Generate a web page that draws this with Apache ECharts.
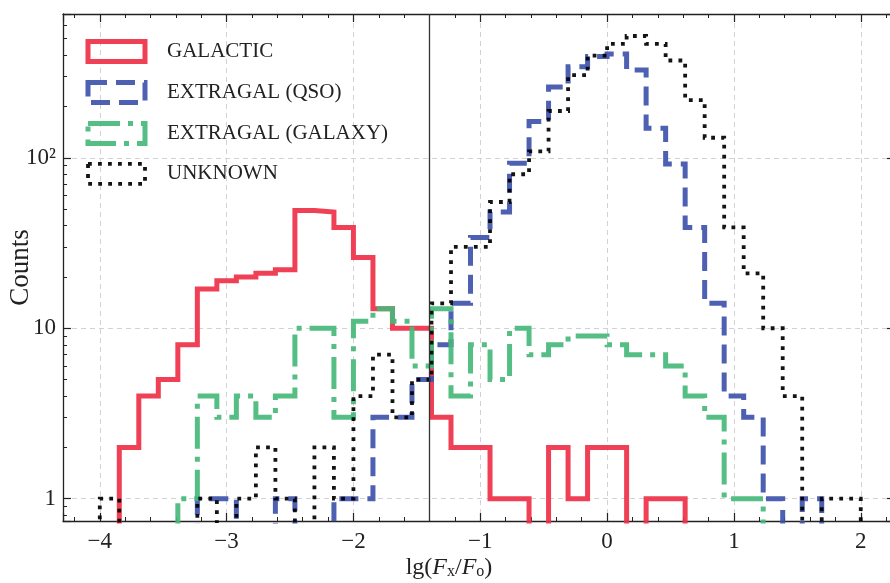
<!DOCTYPE html>
<html>
<head>
<meta charset="utf-8">
<title>lg(Fx/Fo) histogram</title>
<script src="https://cdn.jsdelivr.net/npm/echarts@6.0.0/dist/echarts.min.js"></script>
<style>
  html, body { margin: 0; padding: 0; background: #fff; }
  #chart { width: 890px; height: 583px; }
</style>
</head>
<body>
<div id="chart"></div>
<script>
// histogram bins: 39 equal bins between -4 and 2
const binStart = -4;
const binEnd = 2;
const binCount = 39;

// counts per bin
const galactic = [0, 2, 4, 5, 8, 17, 19, 20, 21, 22, 49, 48, 39, 26, 13, 10, 10, 3, 2, 2,
                  1, 1, 0, 2, 1, 2, 2, 0, 1, 1, 0, 0, 0, 0, 0, 0, 0, 0, 0];
const qso = [0, 0, 0, 0, 0, 1, 1, 0, 0, 1, 0, 0, 1, 1, 3, 3, 5, 8, 14, 34,
             48, 93, 163, 260, 342, 393, 406, 327, 149, 92, 39, 14, 4, 3, 1, 0, 1, 0, 0];
const galaxy = [0, 0, 0, 0, 1, 4, 3, 4, 3, 4, 10, 10, 3, 11, 13, 11, 6, 13, 4, 8,
                5, 10, 7, 8, 9, 9, 8, 7, 7, 6, 4, 3, 1, 1, 0, 0, 0, 0, 0];
const unknown = [1, 0, 0, 0, 0, 1, 0, 1, 2, 1, 0, 2, 1, 4, 7, 3, 5, 14, 30, 30,
                 55, 80, 109, 188, 305, 397, 465, 518, 465, 372, 218, 131, 39, 21, 10, 4, 0, 1, 1];

const seriesNames = ['GALACTIC', 'EXTRAGAL (QSO)', 'EXTRAGAL (GALAXY)', 'UNKNOWN'];
const seriesColors = ['#ef3047', '#3e52aa', '#45b97a', '#000000'];

// vertical reference line
const cutValue = -1.4;

// y tick labels
const yTickValues = [1, 10, 100];
const yTickTexts = ['1', '10', '10²'];

const serif = 'Liberation Serif, Times New Roman, serif';
const FLOOR = 0.1; // empty bins fall below the axis and get clipped
const binWidth = (binEnd - binStart) / binCount;

function stepPoints(counts) {
  const pts = [[binStart, FLOOR]];
  counts.forEach((c, k) => pts.push([binStart + k * binWidth, c > 0 ? c : FLOOR]));
  pts.push([binEnd, FLOOR]);
  return pts;
}

const lineWidths = [5, 5, 5, 3.8];
const dashes = ['solid', [19, 9], [32, 8, 5, 8], [3.8, 6.2]];

const histSeries = [galactic, qso, galaxy, unknown].map((counts, i) => ({
  name: seriesNames[i],
  type: 'line',
  step: 'end',
  data: stepPoints(counts),
  symbol: 'none',
  showSymbol: false,
  clip: true,
  silent: true,
  animation: false,
  emphasis: { disabled: true },
  itemStyle: { color: seriesColors[i] },
  lineStyle: {
    color: seriesColors[i], width: lineWidths[i], type: dashes[i],
    cap: 'butt', join: 'miter', opacity: 0.92
  }
}));

histSeries[0].markLine = {
  silent: true,
  symbol: ['none', 'none'],
  label: { show: false },
  animation: false,
  lineStyle: { color: '#333', width: 1.3, type: 'solid', opacity: 1 },
  data: [{ xAxis: cutValue }]
};

const xMin = -4.29, xMax = 2.27;
const yMin = 0.74, yMax = 697;

const tickCommon = {
  axisLine: { show: true, onZero: false, lineStyle: { color: '#222', width: 1.3 } },
  axisTick: { show: true, inside: true, length: 8, lineStyle: { color: '#222', width: 1.2 } }
};

function xLabel(v) {
  if (Math.abs(v - Math.round(v)) > 1e-6) return '';
  const r = Math.round(v);
  return r < 0 ? '\u2212' + (-r) : String(r);
}

function yLabel(v) {
  const i = yTickValues.findIndex(t => Math.abs(t - v) < 1e-6 * t);
  return i >= 0 ? yTickTexts[i] : '';
}

const option = {
  backgroundColor: '#fff',
  animation: false,
  grid: { left: 63, right: -5, top: 14, bottom: 62, containLabel: false, outerBoundsMode: 'none' },
  legend: {
    orient: 'vertical',
    left: 85.5,
    top: 39,
    padding: 0,
    itemWidth: 57,
    itemHeight: 20,
    itemGap: 16,
    selectedMode: false,
    textStyle: { fontFamily: serif, fontSize: 21, color: '#222', padding: [0, 0, 0, 17] },
    data: seriesNames.map((n, i) => ({
      name: n,
      icon: 'rect',
      itemStyle: {
        color: 'rgba(0,0,0,0)',
        borderColor: seriesColors[i],
        borderWidth: lineWidths[i],
        borderType: dashes[i],
        opacity: 0.92
      }
    }))
  },
  xAxis: [
    {
      type: 'value', min: xMin, max: xMax, position: 'bottom',
      axisLine: tickCommon.axisLine, axisTick: tickCommon.axisTick,
      axisLabel: {
        formatter: xLabel, showMinLabel: false, showMaxLabel: false, margin: 9,
        fontFamily: serif, fontSize: 23, color: '#222'
      },
      minorTick: { show: true, splitNumber: 5, length: 4, lineStyle: { color: '#222', width: 1 } },
      splitLine: { show: true, lineStyle: { color: '#d2d2d2', type: [5, 4], width: 1 } },
      name: 'lg({i|F}{s|x}/{i|F}{s|o})',
      nameLocation: 'middle',
      nameGap: 34,
      nameMoveOverlap: false,
      nameTextStyle: {
        fontFamily: serif, fontSize: 24, color: '#222', padding: [0, 60, 0, 0],
        rich: {
          i: { fontFamily: serif, fontSize: 24, fontStyle: 'italic', color: '#222' },
          s: { fontFamily: serif, fontSize: 16, color: '#222', padding: [9, 0, 0, 0] }
        }
      }
    },
    {
      type: 'value', min: xMin, max: xMax, position: 'top',
      axisLine: tickCommon.axisLine, axisTick: tickCommon.axisTick,
      minorTick: { show: true, splitNumber: 5, length: 4, lineStyle: { color: '#222', width: 1 } },
      axisLabel: { show: false },
      splitLine: { show: false }
    }
  ],
  yAxis: [
    {
      type: 'log', logBase: 10, min: yMin, max: yMax, position: 'left',
      axisLine: tickCommon.axisLine, axisTick: tickCommon.axisTick,
      minorTick: { show: true, splitNumber: 9, length: 4, lineStyle: { color: '#222', width: 1 } },
      axisLabel: {
        formatter: yLabel, showMinLabel: false, showMaxLabel: false, margin: 7,
        fontFamily: serif, fontSize: 23, color: '#222'
      },
      splitLine: { show: true, lineStyle: { color: '#d2d2d2', type: [5, 4], width: 1 } },
      name: 'Counts',
      nameLocation: 'middle',
      nameGap: 29,
      nameMoveOverlap: false,
      nameTextStyle: { fontFamily: serif, fontSize: 27, color: '#222' }
    },
    {
      type: 'log', logBase: 10, min: yMin, max: yMax, position: 'right',
      axisLine: tickCommon.axisLine, axisTick: tickCommon.axisTick,
      minorTick: { show: true, splitNumber: 9, length: 4, lineStyle: { color: '#222', width: 1 } },
      axisLabel: { show: false },
      splitLine: { show: false }
    }
  ],
  series: histSeries
};

const chart = echarts.init(document.getElementById('chart'), null, { renderer: 'canvas' });
chart.setOption(option);

window.addEventListener('resize', function () {
  chart.resize();
});
</script>
</body>
</html>
